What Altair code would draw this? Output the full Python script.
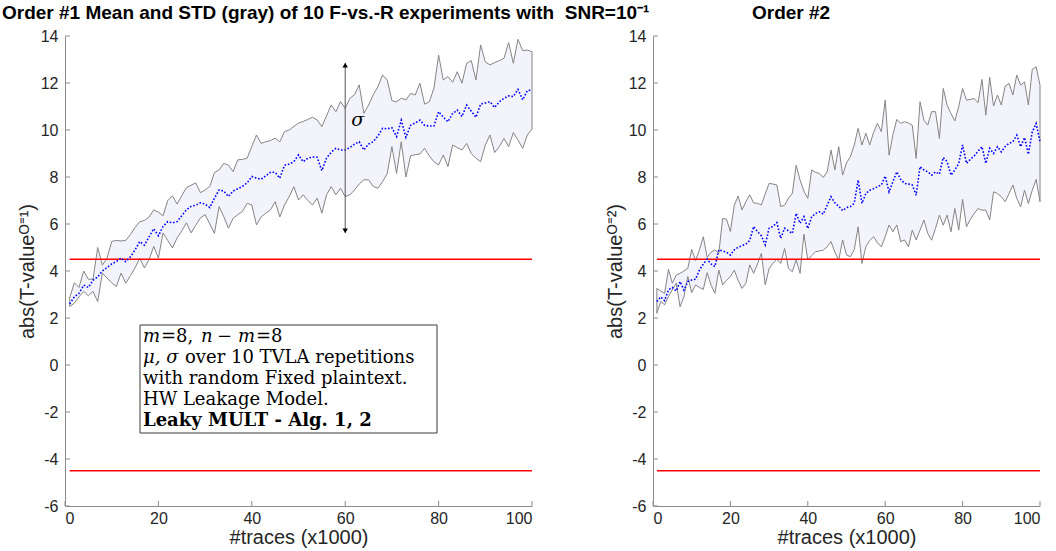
import altair as alt
import pandas as pd

# ---------------- data ----------------
traces = list(range(1, 101))

left_mean = [2.6, 2.9, 3.05, 3.4, 3.3, 3.6, 3.75, 4.0, 4.15, 4.3,
             4.4, 4.55, 4.4, 4.6, 4.9, 5.25, 5.1, 5.45, 5.8, 5.5,
             5.9, 6.1, 6.05, 6.1, 6.35, 6.6, 6.75, 6.8, 6.9, 6.85,
             6.7, 7.1, 7.45, 7.4, 7.17, 7.4, 7.5, 7.6, 7.75, 8.02,
             7.95, 7.9, 8.05, 8.2, 8.2, 7.95, 8.5, 8.55, 8.65, 8.94,
             8.65, 8.8, 8.85, 8.84, 8.27, 8.8, 9.05, 9.22, 9.15, 9.15,
             9.25, 9.4, 9.5, 9.15, 9.4, 9.5, 9.75, 10.07, 10.05, 10.1,
             9.72, 10.42, 9.69, 10.2, 10.3, 10.42, 10.2, 10.17, 10.17, 10.78,
             10.55, 10.35, 10.7, 10.85, 10.57, 11.06, 10.8, 10.54, 11.1, 11.15,
             11.2, 10.96, 11.2, 11.35, 11.45, 11.42, 11.73, 11.28, 11.68, 11.7]

left_upper = [2.85, 3.5, 3.3, 4.0, 3.65, 3.65, 5.0, 4.25, 4.55, 5.26,
              5.3, 5.28, 5.3, 5.55, 5.85, 6.1, 6.15, 6.3, 6.6, 6.5,
              6.35, 7.0, 7.2, 6.85, 7.2, 7.55, 7.65, 7.75, 7.33, 7.45,
              7.6, 8.19, 8.3, 8.58, 8.5, 8.23, 8.73, 8.75, 8.8, 9.3,
              9.79, 9.43, 9.5, 9.55, 9.65, 9.5, 9.93, 10.0, 10.15, 10.3,
              10.36, 10.45, 10.54, 10.43, 10.14, 10.6, 11.07, 10.78, 11.21, 10.92,
              11.35, 11.5, 11.92, 10.71, 11.06, 11.5, 11.84, 12.34, 12.13, 11.25,
              11.2, 11.35, 11.28, 11.56, 11.49, 11.99, 11.1, 11.2, 11.77, 13.19,
              12.13, 12.27, 12.03, 12.48, 11.99, 12.84, 12.95, 12.13, 13.62, 12.9,
              12.77, 12.87, 12.95, 13.05, 13.72, 12.84, 13.86, 13.38, 13.4, 13.33]

left_lower = [2.49, 2.63, 2.9, 3.13, 2.95, 3.13, 2.7, 3.91, 3.7, 3.5,
              3.34, 3.91, 3.48, 3.8, 4.13, 4.55, 4.13, 4.48, 5.05, 4.55,
              5.62, 5.3, 4.98, 5.41, 5.7, 6.05, 5.62, 5.95, 6.26, 6.4,
              6.0, 5.6, 6.74, 6.31, 5.82, 6.24, 6.4, 6.53, 6.88, 6.81,
              5.96, 6.3, 6.46, 6.6, 6.95, 6.3, 6.81, 7.16, 7.59, 7.02,
              7.24, 7.0, 6.81, 7.1, 6.46, 7.24, 7.59, 7.24, 7.52, 7.17,
              7.24, 7.45, 7.7, 7.88, 7.88, 7.6, 7.52, 7.8, 8.15, 9.29,
              8.15, 9.5, 8.0, 8.9, 8.95, 8.98, 9.22, 8.9, 8.65, 8.51,
              8.94, 8.44, 9.36, 9.25, 9.15, 9.43, 9.0, 8.8, 8.65, 9.36,
              9.79, 9.04, 9.29, 9.64, 9.29, 9.89, 9.57, 9.22, 9.79, 10.04]

right_mean = [2.7, 2.9, 2.74, 3.2, 3.3, 3.15, 3.55, 3.19, 3.55, 3.62,
              3.65, 4.04, 4.3, 4.5, 4.3, 4.19, 4.9, 4.85, 4.8, 4.68,
              4.9, 5.01, 5.07, 5.15, 5.3, 5.89, 5.68, 5.5, 5.11, 5.82,
              5.9, 6.06, 5.39, 5.82, 5.7, 5.6, 6.45, 6.03, 6.31, 5.81,
              6.3, 6.45, 6.52, 6.42, 6.8, 7.16, 6.9, 6.75, 6.57, 6.7,
              6.74, 6.88, 7.87, 6.88, 7.3, 7.44, 7.5, 7.59, 7.66, 8.04,
              7.37, 7.8, 8.22, 7.9, 7.73, 7.7, 7.66, 7.23, 8.44, 8.3,
              8.22, 8.08, 8.22, 8.12, 8.83, 8.65, 8.08, 8.3, 8.58, 9.36,
              8.58, 8.75, 8.9, 9.1, 9.29, 8.58, 9.22, 9.0, 9.29, 9.07,
              9.3, 9.43, 9.5, 9.78, 9.29, 9.68, 8.97, 9.92, 10.28, 9.5]

right_upper = [3.26, 3.15, 3.05, 4.07, 3.48, 3.83, 3.9, 4.0, 4.12, 4.92,
               4.44, 4.9, 5.46, 4.58, 4.8, 4.9, 4.75, 6.24, 6.2, 5.68,
               6.8, 7.19, 6.6, 6.95, 7.24, 6.9, 6.88, 6.81, 7.28, 7.73,
               7.7, 7.66, 6.74, 6.8, 7.1, 7.3, 8.5, 7.87, 7.4, 7.09,
               8.3, 8.2, 8.15, 7.98, 8.22, 9.15, 8.3, 9.29, 8.08, 8.6,
               8.86, 9.36, 10.07, 9.36, 9.86, 9.36, 9.9, 10.28, 9.93, 11.27,
               8.93, 9.8, 10.45, 10.28, 10.35, 10.3, 10.2, 8.79, 11.2, 10.42,
               10.21, 10.78, 10.78, 9.64, 11.77, 11.06, 10.7, 10.39, 11.0, 11.77,
               11.27, 11.3, 11.34, 11.16, 12.15, 10.63, 12.24, 11.02, 11.49, 11.06,
               11.87, 11.98, 11.49, 12.34, 11.91, 12.05, 11.06, 12.58, 12.69, 11.91]

right_lower = [2.2, 2.7, 2.56, 2.91, 3.2, 3.48, 2.48, 2.91, 3.76, 3.08,
               3.41, 3.3, 3.22, 3.93, 3.4, 3.05, 4.04, 3.41, 3.6, 3.76,
               4.04, 3.6, 3.26, 3.48, 4.26, 3.9, 4.3, 4.75, 3.41, 4.1,
               4.33, 4.5, 4.32, 4.96, 4.11, 3.97, 4.47, 3.9, 5.57, 4.47,
               4.65, 4.82, 4.85, 4.89, 5.03, 5.25, 4.8, 4.47, 5.32, 4.68,
               4.61, 4.9, 5.88, 4.32, 5.03, 5.3, 5.46, 5.2, 5.03, 5.46,
               5.96, 5.67, 5.96, 5.25, 5.32, 5.03, 5.74, 5.32, 5.74, 6.17,
               5.6, 5.31, 5.81, 6.38, 5.95, 6.38, 5.67, 6.66, 5.74, 7.05,
               5.88, 6.2, 6.45, 6.66, 6.59, 6.59, 6.17, 7.37, 7.3, 7.16,
               6.95, 7.3, 7.66, 7.09, 6.73, 7.44, 6.87, 7.44, 7.9, 6.95]

y_ticks = [-6, -4, -2, 0, 2, 4, 6, 8, 10, 12, 14]
x_ticks = [0, 20, 40, 60, 80, 100]
thresholds = [4.5, -4.5]
threshold_span = [1, 100]

panel_titles = ["Order #1 Mean and STD (gray) of 10 F-vs.-R experiments with\u00a0 SNR=10⁻¹",
                "Order #2"]
y_titles = ["abs(T-valueᴼ⁼¹)", "abs(T-valueᴼ⁼²)"]
x_title = "#traces (x1000)"

sigma_x = 60
sigma_span = [5.62, 12.85]

# legend-box text: (text, x offset px, line, style)
box_segments = [
    ("m", 0, 0, "italic"), ("=8,", 18, 0, "normal"), ("n", 58, 0, "italic"),
    ("−", 74, 0, "normal"), ("m", 95, 0, "italic"), ("=8", 113, 0, "normal"),
    ("μ, σ", 0, 1, "italic"), ("over 10 TVLA repetitions", 42, 1, "normal"),
    ("with random Fixed plaintext.", 0, 2, "normal"),
    ("HW Leakage Model.", 0, 3, "normal"),
    ("Leaky MULT - Alg. 1, 2", 0, 4, "bold"),
]

# ---------------- styling / layout ----------------
W1, W2, H = 467, 387, 470
AXC = "#8c8c8c"
FILL = "#f3f3fc"
EDGE = "#858585"

xs = alt.Scale(domain=[0, 100], nice=False, zero=False)
ys = alt.Scale(domain=[-6, 14], nice=False, zero=False)


def X(field):
    return alt.X(field, type="quantitative", scale=xs,
                 axis=alt.Axis(values=x_ticks, title=x_title, labelExpr="'' + datum.value",
                               labelPadding=4, titlePadding=1))


def Y(field, ytitle):
    return alt.Y(field, type="quantitative", scale=ys,
                 axis=alt.Axis(values=y_ticks, title=ytitle, labelExpr="'' + datum.value",
                               labelPadding=7, titlePadding=3))


def panel(mean, upper, lower, width, ytitle, title, title_dx, pad_rect, with_box):
    df = pd.DataFrame({"x": traces, "mean": mean, "upper": upper, "lower": lower})
    base = alt.Chart(df)

    layers = [pad_rect]
    layers.append(base.mark_area(color=FILL, opacity=1).encode(
        x=X("x"), y=Y("lower", ytitle), y2="upper"))
    layers.append(base.mark_line(color=EDGE, strokeWidth=1).encode(x=X("x"), y=Y("upper", ytitle)))
    layers.append(base.mark_line(color=EDGE, strokeWidth=1).encode(x=X("x"), y=Y("lower", ytitle)))
    layers.append(base.transform_filter("datum.x == 1 || datum.x == 100").mark_rule(
        color=EDGE, strokeWidth=1).encode(x=X("x"), y=Y("lower", ytitle), y2="upper"))

    thr = pd.DataFrame({"t": thresholds, "x1": [threshold_span[0]] * 2, "x2": [threshold_span[1]] * 2})
    layers.append(alt.Chart(thr).mark_rule(color="#ff0000", strokeWidth=1.6).encode(
        x=X("x1"), x2="x2", y=Y("t", ytitle)))

    layers.append(base.mark_line(color="#0000ff", strokeWidth=1.6, strokeDash=[1.6, 1.8]).encode(
        x=X("x"), y=Y("mean", ytitle)))

    # inward ticks
    layers.append(alt.Chart(pd.DataFrame({"v": y_ticks})).mark_rule(color=AXC).encode(
        y=Y("v", ytitle), x=alt.value(0), x2=alt.value(5)))
    layers.append(alt.Chart(pd.DataFrame({"v": x_ticks})).mark_rule(color=AXC).encode(
        x=X("v"), y=alt.value(H), y2=alt.value(H - 5)))

    if with_box:
        arr = pd.DataFrame({"x": [sigma_x], "y1": [sigma_span[0]], "y2": [sigma_span[1]]})
        layers.append(alt.Chart(arr).mark_rule(color="#555555", strokeWidth=1).encode(
            x=X("x"), y=Y("y1", ytitle), y2="y2"))
        layers.append(alt.Chart(arr).mark_point(shape="triangle-up", filled=True, color="black",
                                                size=30, opacity=1, yOffset=2).encode(
            x=X("x"), y=Y("y2", ytitle)))
        layers.append(alt.Chart(arr).mark_point(shape="triangle-down", filled=True, color="black",
                                                size=30, opacity=1, yOffset=-2).encode(
            x=X("x"), y=Y("y1", ytitle)))
        layers.append(alt.Chart(arr).mark_text(text="σ", font="DejaVu Serif", fontStyle="italic",
                                               fontSize=19, align="left", baseline="middle",
                                               dx=6).encode(
            x=X("x"), y=alt.value(84)))
        # text box
        layers.append(alt.Chart(arr).mark_rect(fill="white", stroke="#3a3a3a", strokeWidth=1).encode(
            x=alt.value(75), x2=alt.value(372), y=alt.value(289), y2=alt.value(397)))
        seg = pd.DataFrame(box_segments, columns=["text", "dx", "line", "style"])
        seg["px"] = 78 + seg["dx"]
        seg["py"] = 301 + seg["line"] * 21
        for style in ["normal", "italic", "bold"]:
            layers.append(alt.Chart(seg).transform_filter(f"datum.style == '{style}'").mark_text(
                font="DejaVu Serif", fontSize=18, align="left", baseline="middle", color="black",
                fontStyle="italic" if style == "italic" else "normal",
                fontWeight="bold" if style == "bold" else "normal").encode(
                x=alt.X("px:Q", scale=None), y=alt.Y("py:Q", scale=None), text="text:N"))

    layers.append(alt.Chart(pd.DataFrame({"t": [title]})).mark_text(
        font="Liberation Sans", fontWeight="bold", fontSize=19, align="left", baseline="middle",
        color="black").encode(x=alt.value(title_dx), y=alt.value(-23), text="t:N"))

    return alt.layer(*layers).properties(width=width, height=H)


pad_left = alt.Chart(pd.DataFrame({"a": [0]})).mark_rect(opacity=0).encode(
    x=alt.value(-65), x2=alt.value(0), y=alt.value(-36), y2=alt.value(0))
pad_right = alt.Chart(pd.DataFrame({"a": [0]})).mark_rect(opacity=0).encode(
    x=alt.value(0), x2=alt.value(403), y=alt.value(0), y2=alt.value(515))

left = panel(left_mean, left_upper, left_lower, W1, y_titles[0], panel_titles[0], -63, pad_left, True)
right = panel(right_mean, right_upper, right_lower, W2, y_titles[1], panel_titles[1], 99, pad_right, False)

chart = alt.hconcat(left, right, spacing=121, bounds="flush").properties(
    padding=0, background="white"
).configure_view(stroke=None).configure_axis(
    labelFont="Liberation Sans", labelFontSize=16, labelColor="#262626",
    titleFont="Liberation Sans", titleFontSize=20, titleColor="#262626", titleFontWeight="normal",
    domainColor=AXC, domainWidth=1, ticks=False, grid=False,
)

chart.save("out.html", embed_options={"renderer": "svg", "actions": False})
